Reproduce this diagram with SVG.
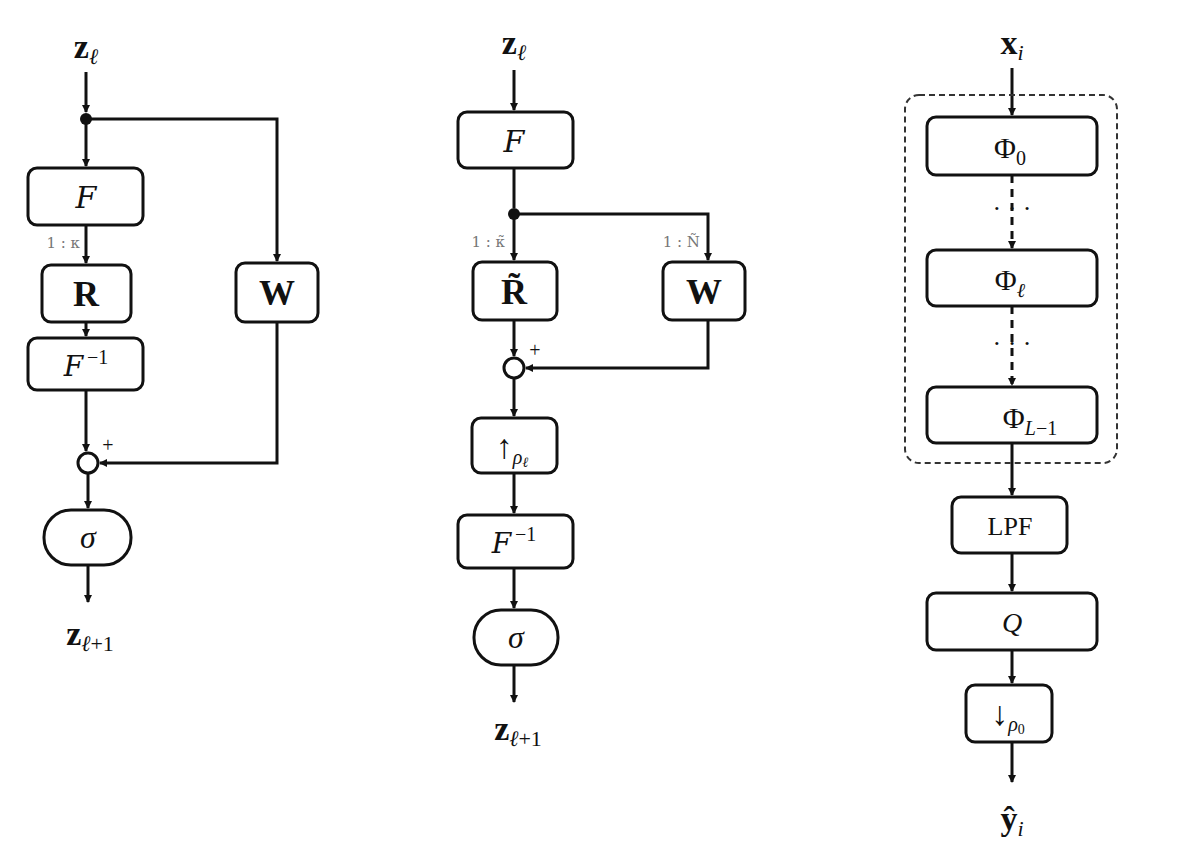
<svg xmlns="http://www.w3.org/2000/svg" width="1200" height="862" viewBox="0 0 1200 862">
<style>
.b{fill:#fff;stroke:#111;stroke-width:3}
.l{fill:none;stroke:#111;stroke-width:3}
.t{font-family:"Liberation Serif","DejaVu Serif",serif;fill:#111;text-anchor:middle}
.f{font-family:"DejaVu Serif",serif;font-style:italic}
.s{font-family:"DejaVu Serif",serif;fill:#777;font-size:15px;text-anchor:end}
</style>
<defs><marker id="a" markerWidth="8" markerHeight="8" refX="7" refY="4" orient="auto" markerUnits="userSpaceOnUse"><path d="M0,0 L8,4 L0,8 Z" fill="#111"/></marker></defs>
<g id="connectors">
<path class="l" d="M86,72 V112" marker-end="url(#a)"/>
<path class="l" d="M86,119 V166" marker-end="url(#a)"/>
<path class="l" d="M86,119 H277 V261" marker-end="url(#a)"/>
<path class="l" d="M86,225 V263" marker-end="url(#a)"/>
<path class="l" d="M86,322 V336" marker-end="url(#a)"/>
<path class="l" d="M86,390 V451" marker-end="url(#a)"/>
<path class="l" d="M277,322 V463 H100" marker-end="url(#a)"/>
<path class="l" d="M88,473 V508" marker-end="url(#a)"/>
<path class="l" d="M88,565 V602" marker-end="url(#a)"/>
<circle cx="86" cy="119" r="6" fill="#111"/>
<path class="l" d="M514,70 V110" marker-end="url(#a)"/>
<path class="l" d="M514,168 V208"/>
<path class="l" d="M514,214 V260" marker-end="url(#a)"/>
<path class="l" d="M514,214 H708 V260" marker-end="url(#a)"/>
<path class="l" d="M514,320 V356" marker-end="url(#a)"/>
<path class="l" d="M708,320 V368 H526" marker-end="url(#a)"/>
<path class="l" d="M514,378 V416" marker-end="url(#a)"/>
<path class="l" d="M514,473 V513" marker-end="url(#a)"/>
<path class="l" d="M514,568 V608" marker-end="url(#a)"/>
<path class="l" d="M514,665 V702" marker-end="url(#a)"/>
<circle cx="514" cy="214" r="6" fill="#111"/>
<path class="l" d="M1012,68 V115" marker-end="url(#a)"/>
<path class="l" d="M1012,175 V248" stroke-dasharray="8,6" marker-end="url(#a)"/>
<path class="l" d="M1012,306 V385" stroke-dasharray="8,6" marker-end="url(#a)"/>
<path class="l" d="M1012,443 V495" marker-end="url(#a)"/>
<path class="l" d="M1012,553 V591" marker-end="url(#a)"/>
<path class="l" d="M1012,650 V683" marker-end="url(#a)"/>
<path class="l" d="M1012,742 V782" marker-end="url(#a)"/>
</g>
<g id="left">
<text class="t" x="86" y="58" font-size="34" font-weight="bold">z<tspan font-size="22" font-style="italic" font-weight="normal" dy="6">ℓ</tspan></text>
<g id="F1"><rect class="b" x="28" y="168" width="115" height="57" rx="9"/><text class="t f" x="86" y="208" font-size="30">F</text></g>
<text class="s" x="80" y="248">1 : κ</text>
<g id="R1"><rect class="b" x="42" y="265" width="89" height="57" rx="9"/><text class="t" x="86" y="306" font-size="36" font-weight="bold">R</text></g>
<g id="W1"><rect class="b" x="236" y="263" width="82" height="59" rx="9"/><text class="t" x="277" y="305" font-size="36" font-weight="bold">W</text></g>
<g id="Finv1"><rect class="b" x="28" y="338" width="115" height="52" rx="9"/><text class="t" x="86" y="376" font-size="28"><tspan class="f">F</tspan><tspan font-size="20" dx="4" dy="-12">−1</tspan></text></g>
<g id="sum1"><circle class="b" cx="88" cy="463" r="10"/><text class="t" x="108" y="452" font-size="20">+</text></g>
<g id="sig1"><rect class="b" x="44" y="510" width="87" height="55" rx="27"/><text class="t" x="88" y="548" font-size="32" font-style="italic">σ</text></g>
<text class="t" x="90" y="645" font-size="34" font-weight="bold">z<tspan font-size="22" font-weight="normal" dy="6"><tspan font-style="italic">ℓ</tspan>+1</tspan></text>
</g>
<g id="middle">
<text class="t" x="514" y="54" font-size="34" font-weight="bold">z<tspan font-size="22" font-style="italic" font-weight="normal" dy="6">ℓ</tspan></text>
<g id="F2"><rect class="b" x="458" y="112" width="115" height="56" rx="9"/><text class="t f" x="514" y="152" font-size="30">F</text></g>
<text class="s" x="505" y="247">1 : κ̃</text>
<text class="s" x="700" y="247">1 : Ñ</text>
<g id="R2"><rect class="b" x="473" y="262" width="84" height="58" rx="9"/><text class="t" x="514" y="304" font-size="36" font-weight="bold">R̃</text></g>
<g id="W2"><rect class="b" x="663" y="262" width="82" height="58" rx="9"/><text class="t" x="704" y="304" font-size="36" font-weight="bold">W</text></g>
<g id="sum2"><circle class="b" cx="514" cy="368" r="10"/><text class="t" x="535" y="357" font-size="20">+</text></g>
<g id="up"><rect class="b" x="472" y="418" width="85" height="55" rx="9"/><text class="t" x="512" y="458" font-size="34" fill="#555">↑<tspan font-size="20" font-style="italic" dy="6">ρ<tspan font-size="14" dy="3">ℓ</tspan></tspan></text></g>
<g id="Finv2"><rect class="b" x="458" y="515" width="115" height="53" rx="9"/><text class="t" x="514" y="553" font-size="28"><tspan class="f">F</tspan><tspan font-size="20" dx="4" dy="-12">−1</tspan></text></g>
<g id="sig2"><rect class="b" x="474" y="610" width="84" height="55" rx="27"/><text class="t" x="516" y="648" font-size="32" font-style="italic">σ</text></g>
<text class="t" x="518" y="740" font-size="34" font-weight="bold">z<tspan font-size="22" font-weight="normal" dy="6"><tspan font-style="italic">ℓ</tspan>+1</tspan></text>
</g>
<g id="right">
<text class="t" x="1012" y="54" font-size="34" font-weight="bold">x<tspan font-size="22" font-style="italic" font-weight="normal" dy="6">i</tspan></text>
<rect x="905" y="95" width="212" height="368" rx="14" fill="none" stroke="#333" stroke-width="2" stroke-dasharray="6,4"/>
<g id="phi0"><rect class="b" x="927" y="117" width="170" height="58" rx="9"/><text class="t" x="1010" y="158" font-size="30">Φ<tspan font-size="20" dy="7">0</tspan></text></g>
<text class="t" x="1012" y="217" font-size="26">· · ·</text>
<g id="phil"><rect class="b" x="927" y="250" width="170" height="56" rx="9"/><text class="t" x="1010" y="290" font-size="30">Φ<tspan font-size="20" font-style="italic" dy="7">ℓ</tspan></text></g>
<text class="t" x="1012" y="352" font-size="26">· · ·</text>
<g id="phiL"><rect class="b" x="927" y="387" width="170" height="56" rx="9"/><text class="t" x="1030" y="428" font-size="30">Φ<tspan font-size="20" dy="7"><tspan font-style="italic">L</tspan>−1</tspan></text></g>
<g id="lpf"><rect class="b" x="952" y="497" width="115" height="56" rx="9"/><text class="t" x="1010" y="535" font-size="26">LPF</text></g>
<g id="q"><rect class="b" x="927" y="593" width="170" height="57" rx="9"/><text class="t" x="1012" y="632" font-size="28" font-style="italic" fill="#555">Q</text></g>
<g id="down"><rect class="b" x="966" y="685" width="86" height="57" rx="9"/><text class="t" x="1008" y="725" font-size="34" fill="#555">↓<tspan font-size="20" font-style="italic" dy="6">ρ<tspan font-size="14" font-style="normal" dy="3">0</tspan></tspan></text></g>
<text class="t" x="1012" y="830" font-size="34" font-weight="bold">ŷ<tspan font-size="22" font-style="italic" font-weight="normal" dy="6">i</tspan></text>
</g>
</svg>
